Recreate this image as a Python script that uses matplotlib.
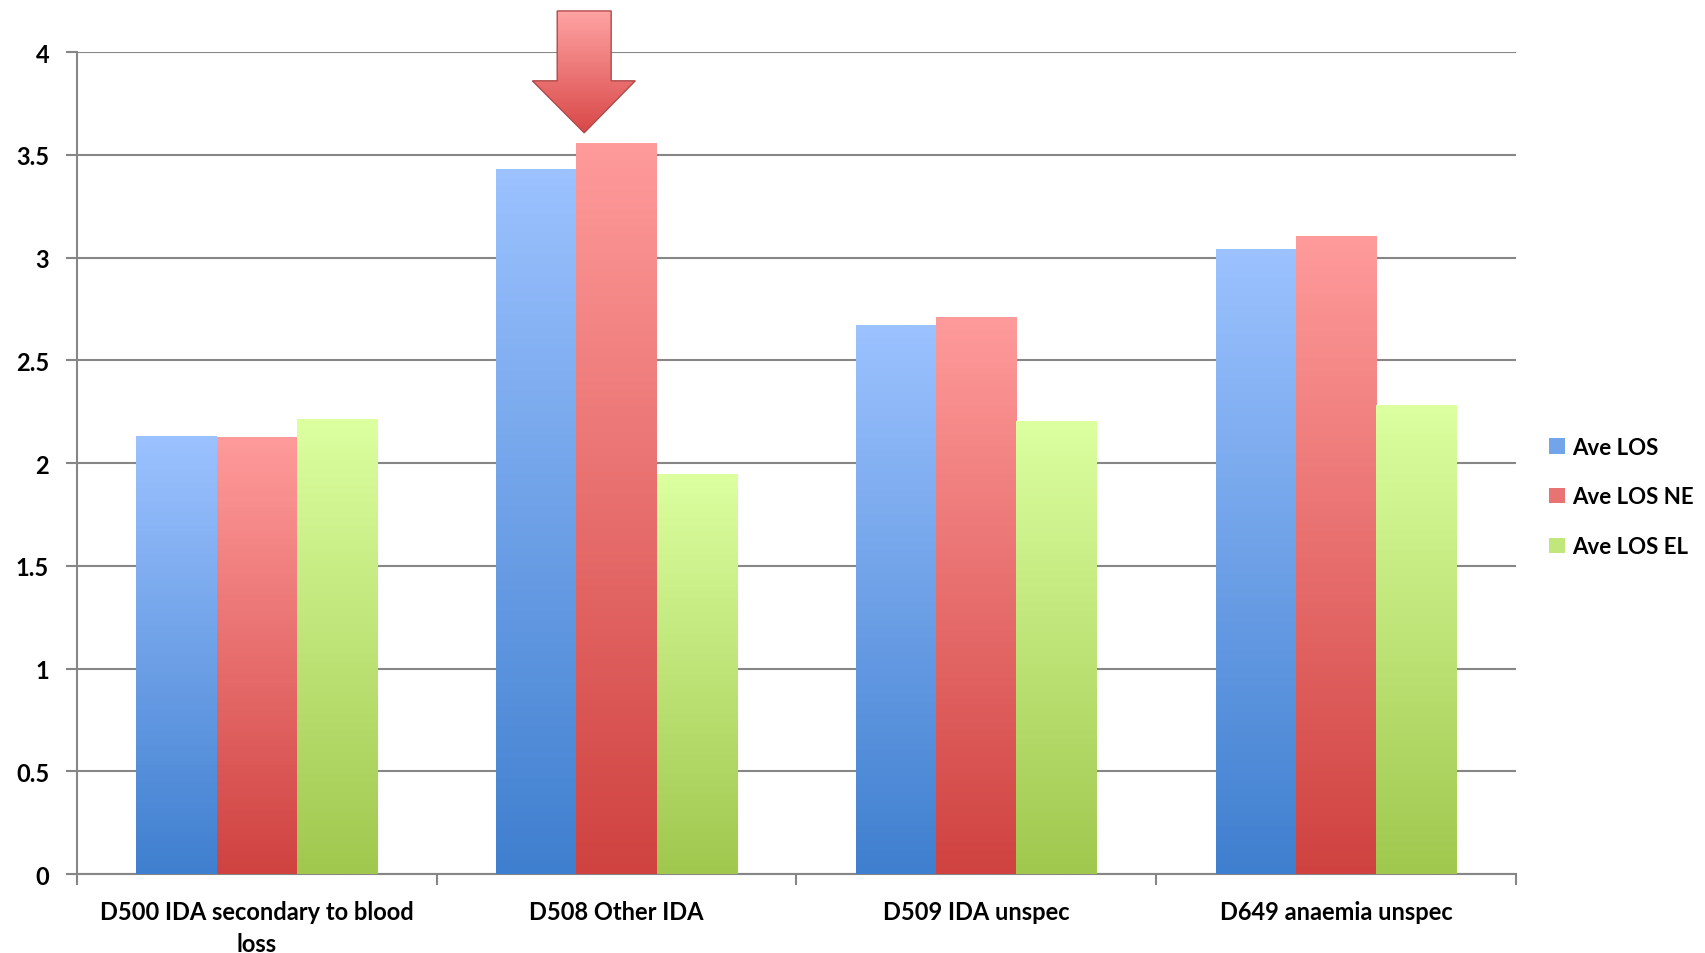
import numpy as np
import matplotlib
matplotlib.use('Agg')
import matplotlib.pyplot as plt
from matplotlib.patches import Polygon, Patch
from matplotlib.colors import LinearSegmentedColormap

categories = ['D500 IDA secondary to blood\nloss', 'D508 Other IDA', 'D509 IDA unspec', 'D649 anaemia unspec']
series_names = ['Ave LOS', 'Ave LOS NE', 'Ave LOS EL']
ave_los = [2.127, 3.43, 2.668, 3.04]
ave_los_ne = [2.122, 3.557, 2.707, 3.10]
ave_los_el = [2.21, 1.946, 2.20, 2.278]
yticks = [0, 0.5, 1, 1.5, 2, 2.5, 3, 3.5, 4]

# gradient colours (top, bottom) like the excel fill
grads = [('#9CC2FF', '#3F7FCF'), ('#FF9B9B', '#CF4240'), ('#DCFFA0', '#A0C84E')]

plt.rcParams['font.family'] = ['Lato', 'DejaVu Sans']
plt.rcParams['font.weight'] = 'bold'

fig = plt.figure(figsize=(17.06, 9.54), dpi=100)
ax = fig.add_axes([0.0451, 0.0828, 0.8435, 0.8616])

x = np.arange(len(categories))
w = 0.223
grad = np.linspace(0, 1, 256).reshape(-1, 1)
for i, vals in enumerate([ave_los, ave_los_ne, ave_los_el]):
    bars = ax.bar(x + (i - 1) * w, vals, w, facecolor='none', edgecolor='none', zorder=3)
    cmap = LinearSegmentedColormap.from_list('g%d' % i, [grads[i][1], grads[i][0]])
    for b in bars:
        x0, y0 = b.get_x(), b.get_y()
        ax.imshow(grad, extent=[x0, x0 + b.get_width(), y0, y0 + b.get_height()],
                  origin='lower', cmap=cmap, aspect='auto', zorder=3)

ax.set_xlim(-0.5, len(categories) - 0.5)
ax.set_ylim(0, 4)
ax.set_yticks(yticks)
ax.set_yticklabels(['0', '0.5', '1', '1.5', '2', '2.5', '3', '3.5', '4'])
ax.yaxis.grid(True, color='#868686', linewidth=1.5, zorder=0)
ax.set_axisbelow(True)

ax.set_xticks(x)
ax.set_xticklabels(categories, linespacing=1.45)
ax.set_xticks(np.arange(len(categories) + 1) - 0.5, minor=True)
ax.tick_params(axis='x', which='major', length=0, pad=19, labelsize=17)
ax.tick_params(axis='x', which='minor', length=8, width=1.5, color='#868686', direction='out')
ax.tick_params(axis='y', length=8, width=1.5, color='#868686', pad=12, labelsize=17)

for s in ['top', 'right']:
    ax.spines[s].set_visible(False)
for s in ['left', 'bottom']:
    ax.spines[s].set_color('#868686')
    ax.spines[s].set_linewidth(1.5)

# big arrow pointing at D508 NE bar
tip_x = 1 - 0.09
tip_y = ave_los_ne[1] + 0.05
arrow = [(tip_x - 0.075, 4.2), (tip_x + 0.075, 4.2), (tip_x + 0.075, 3.86), (tip_x + 0.142, 3.86),
         (tip_x, tip_y), (tip_x - 0.144, 3.86), (tip_x - 0.075, 3.86)]
poly = Polygon(arrow, closed=True, facecolor='none', edgecolor='#B04A4A', linewidth=1.0,
               zorder=6, clip_on=False)
ax.add_patch(poly)
acmap = LinearSegmentedColormap.from_list('arr', ['#D94848', '#FFA3A3'])
im = ax.imshow(grad, extent=[tip_x - 0.15, tip_x + 0.15, tip_y, 4.2], origin='lower',
               cmap=acmap, aspect='auto', zorder=5)
im.set_clip_box(fig.bbox)
im.set_clip_path(poly)

ax.set_xlim(-0.5, len(categories) - 0.5)
ax.set_ylim(0, 4)

handles = [Patch(facecolor=LinearSegmentedColormap.from_list('h', [g[1], g[0]])(0.55), edgecolor='none')
           for g in grads]
fig.legend(handles, series_names, loc='center left', bbox_to_anchor=(0.903, 0.478),
           frameon=False, fontsize=16, handlelength=0.7, handleheight=0.7,
           handletextpad=0.3, labelspacing=1.3, borderaxespad=0)

fig.savefig('out.png', dpi=100)
